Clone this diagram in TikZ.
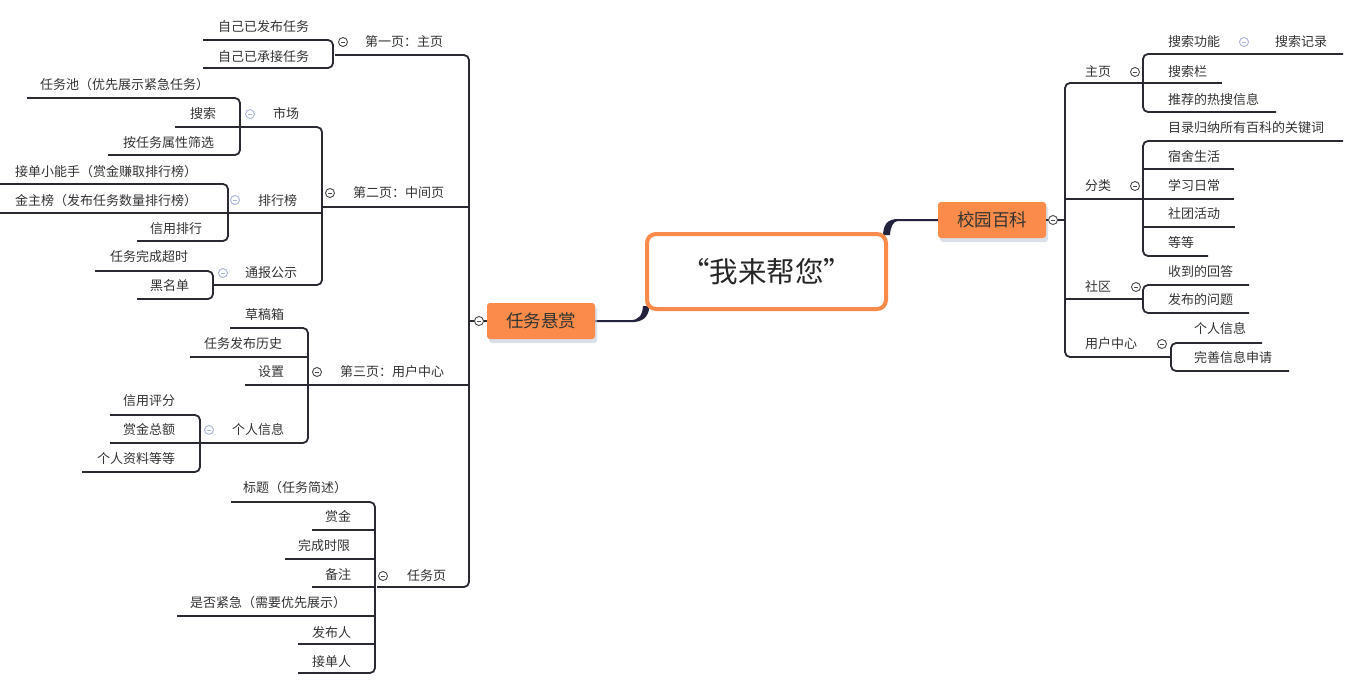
\documentclass[tikz,border=0pt]{standalone}
\usepackage{fontspec}
\newfontfamily\cjk{Noto Sans CJK SC}
\usetikzlibrary{shadows}
\definecolor{linec}{HTML}{2B2A33}
\definecolor{txtc}{HTML}{333333}
\definecolor{orng}{HTML}{FA8B4A}
\definecolor{lightc}{HTML}{A9B5DA}
\definecolor{darkc}{HTML}{4A4A4A}
\definecolor{navy}{HTML}{23233D}
\definecolor{shadc}{HTML}{C3CCDA}
\tikzset{
  txt/.style={font=\cjk\fontsize{13}{15}\selectfont, text=txtc, inner sep=0pt, anchor=base west},
  br/.style={draw=linec, line width=1.8pt, rounded corners=5pt},
  colD/.style={circle, draw=darkc, line width=0.9pt, fill=white, minimum size=9pt, inner sep=0pt,
    path picture={\draw[darkc, line width=0.8pt] ([xshift=-2.2pt]path picture bounding box.center) -- ([xshift=2.2pt]path picture bounding box.center);}},
  colL/.style={circle, draw=lightc, line width=0.9pt, fill=white, minimum size=9pt, inner sep=0pt,
    path picture={\draw[lightc, line width=0.8pt] ([xshift=-2.2pt]path picture bounding box.center) -- ([xshift=2.2pt]path picture bounding box.center);}},
  mainbox/.style={fill=orng, rounded corners=3pt, minimum width=108pt, minimum height=36pt, inner sep=0pt,
    font=\cjk\fontsize{17.5}{20}\selectfont, text=txtc,
    drop shadow={shadow xshift=2pt, shadow yshift=-4pt, fill=shadc, opacity=0.6}},
  centerbox/.style={draw=orng, line width=4pt, fill=white, rounded corners=9pt, minimum width=239pt, minimum height=75pt, inner sep=0pt,
    font=\cjk\fontsize{28.5}{32}\selectfont, text=black!85},
  taper/.style={fill=navy}
}
\newcommand\tx[4]{\node[txt] (#1) at (#2,#3+4.6) {#4};}
\begin{document}
\begin{tikzpicture}[x=1pt,y=-1pt]
\useasboundingbox[fill=white] (0,0) rectangle (1352,688);

% ===== left branch lines =====
\draw[br] (335,55) -- (469,55) -- (469,587) -- (377,587);
\draw[br] (322,207) -- (469,207);
\draw[br] (308,385) -- (469,385);
% page 1
\draw[br] (203,40) -- (333,40) -- (333,68) -- (203,68);
% page 2
\draw[br] (240,127) -- (322,127) -- (322,285) -- (213,285);
\draw[br] (228,213) -- (322,213);
% market
\draw[br] (27,98) -- (240,98) -- (240,155) -- (108,155);
\draw[br] (175,127) -- (240,127);
% ranking
\draw[br] (0,184) -- (228,184) -- (228,241) -- (137,241);
\draw[br] (0,213) -- (228,213);
% notice
\draw[br] (95,271) -- (213,271) -- (213,299) -- (137,299);
% page 3
\draw[br] (230,328) -- (308,328) -- (308,443) -- (200,443);
\draw[br] (190,357) -- (308,357);
\draw[br] (245,385) -- (308,385);
% personal info
\draw[br] (110,415) -- (200,415) -- (200,472) -- (82,472);
\draw[br] (110,443) -- (200,443);
% task page
\draw[br] (231,502) -- (375,502) -- (375,673) -- (298,673);
\foreach \xa/\ya in {312/530, 285/559, 312/587, 177/616, 298/644}
  \draw[br] (\xa,\ya) -- (375,\ya);

% ===== right branch lines =====
\draw[br] (1143,83) -- (1065,83) -- (1065,357) -- (1171,357);
\draw[br] (1065,199) -- (1143,199);
\draw[br] (1065,299) -- (1143,299);
\draw[br] (1343,54) -- (1143,54) -- (1143,112) -- (1276,112);
\draw[br] (1143,83) -- (1222,83);
\draw[br] (1343,141) -- (1143,141) -- (1143,256) -- (1208,256);
\draw[br] (1143,169) -- (1234,169);
\draw[br] (1143,199) -- (1234,199);
\draw[br] (1143,227) -- (1235,227);
\draw[br] (1249,285) -- (1143,285) -- (1143,313) -- (1249,313);
\draw[br] (1262,343) -- (1171,343) -- (1171,371) -- (1289,371);

% ===== tapered connectors to the central topic =====
\fill[taper] (595,320.2) -- (630,320.2) .. controls (639,320.2) and (642.5,315) .. (643,306)
  -- (649.5,306) .. controls (648.5,318) and (642,322.4) .. (630,322.2) -- (595,322.2) -- cycle;
\fill[taper] (938,219) -- (898,219) .. controls (887,219) and (883.5,225) .. (883,235)
  -- (890,235) .. controls (890.5,227) and (893,221) .. (898,221) -- (938,221) -- cycle;

% ===== main topics =====
\node[mainbox] (rw) at (541,321) {任务悬赏};
\node[mainbox] (xy) at (992,220) {校园百科};
\node[centerbox] (ctr) at (766.5,271.5) {“我来帮您”};
\draw[br] (rw.west) -- (469,321);
\draw[br] (xy.east) -- (1065,220);

% ===== left texts =====
\tx{a1}{218}{27}{自己已发布任务}
\tx{a2}{218}{57}{自己已承接任务}
\tx{p1}{365}{42}{第一页：主页}
\tx{b1}{40}{85}{任务池（优先展示紧急任务）}
\tx{b2}{190}{114}{搜索}
\tx{b3}{123}{143}{按任务属性筛选}
\tx{m1}{273}{114}{市场}
\tx{r1}{15}{172}{接单小能手（赏金赚取排行榜）}
\tx{r2}{15}{201}{金主榜（发布任务数量排行榜）}
\tx{r3}{150}{229}{信用排行}
\tx{m2}{258}{201}{排行榜}
\tx{p2}{353}{193}{第二页：中间页}
\tx{n1}{110}{257}{任务完成超时}
\tx{n2}{150}{286}{黑名单}
\tx{m3}{245}{273}{通报公示}
\tx{d1}{245}{315}{草稿箱}
\tx{d2}{204}{344}{任务发布历史}
\tx{d3}{258}{372}{设置}
\tx{d4}{232}{430}{个人信息}
\tx{p3}{340}{372}{第三页：用户中心}
\tx{e1}{123}{401}{信用评分}
\tx{e2}{123}{430}{赏金总额}
\tx{e3}{97}{459}{个人资料等等}
\tx{f1}{243}{488}{标题（任务简述）}
\tx{f2}{325}{517}{赏金}
\tx{f3}{298}{546}{完成时限}
\tx{f4}{325}{575}{备注}
\tx{f5}{190}{603}{是否紧急（需要优先展示）}
\tx{f6}{312}{633}{发布人}
\tx{f7}{312}{662}{接单人}
\tx{p4}{407}{576}{任务页}

% ===== right texts =====
\tx{q1}{1085}{72}{主页}
\tx{q2}{1085}{186}{分类}
\tx{q3}{1085}{287}{社区}
\tx{q4}{1085}{344}{用户中心}
\tx{s1}{1168}{42}{搜索功能}
\tx{s2}{1275}{42}{搜索记录}
\tx{s3}{1168}{72}{搜索栏}
\tx{s4}{1168}{100}{推荐的热搜信息}
\tx{k1}{1168}{128}{目录归纳所有百科的关键词}
\tx{k2}{1168}{157}{宿舍生活}
\tx{k3}{1168}{186}{学习日常}
\tx{k4}{1168}{214}{社团活动}
\tx{k5}{1168}{243}{等等}
\tx{h1}{1168}{272}{收到的回答}
\tx{h2}{1168}{300}{发布的问题}
\tx{u1}{1194}{329}{个人信息}
\tx{u2}{1194}{358}{完善信息申请}

% ===== collapse markers =====
\node[colD] (c1) at (343,42) {};
\node[colL] (c2) at (250,114) {};
\node[colD] (c3) at (330,193) {};
\node[colL] (c4) at (235,200) {};
\node[colL] (c5) at (223,273) {};
\node[colD] (c6) at (317,372) {};
\node[colL] (c7) at (209,430) {};
\node[colD] (c8) at (383,576) {};
\node[colD] (c9) at (479,321) {};
\node[colD] (c10) at (1053,220) {};
\node[colD] (c11) at (1135,72) {};
\node[colL] (c12) at (1244,42) {};
\node[colD] (c13) at (1135,186) {};
\node[colD] (c14) at (1136,287) {};
\node[colD] (c15) at (1162,344) {};
\end{tikzpicture}
\end{document}
